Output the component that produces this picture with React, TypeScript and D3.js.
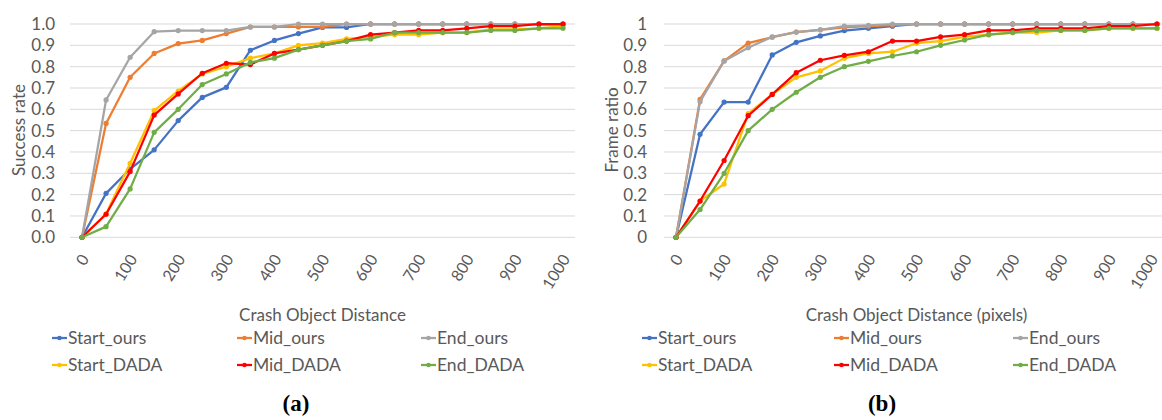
import * as d3 from 'd3';

// x categories (crash object distance)
const distances = [0, 50, 100, 150, 200, 250, 300, 350, 400, 450, 500, 550, 600, 650, 700, 750, 800, 850, 900, 950, 1000];
const tickLabels = ['0', '100', '200', '300', '400', '500', '600', '700', '800', '900', '1000'];
const yTicks = [0, 0.1, 0.2, 0.3, 0.4, 0.5, 0.6, 0.7, 0.8, 0.9, 1];

const seriesNames = ['Start_ours', 'Mid_ours', 'End_ours', 'Start_DADA', 'Mid_DADA', 'End_DADA'];
const seriesColors = ['#4472C4', '#ED7D31', '#A5A5A5', '#FFC000', '#FF0000', '#70AD47'];

// (a) success rate
const startOursA = [0, 0.206, 0.32, 0.41, 0.547, 0.656, 0.703, 0.877, 0.923, 0.955, 0.984, 0.984, 1, 1, 1, 1, 1, 1, 1, 1, 1];
const midOursA = [0, 0.534, 0.75, 0.862, 0.908, 0.923, 0.955, 0.986, 0.986, 0.986, 0.986, 1, 1, 1, 1, 1, 1, 1, 1, 1, 1];
const endOursA = [0, 0.644, 0.844, 0.964, 0.969, 0.969, 0.969, 0.986, 0.986, 1, 1, 1, 1, 1, 1, 1, 1, 1, 1, 1, 1];
const startDadaA = [0, 0.11, 0.347, 0.594, 0.686, 0.766, 0.8, 0.84, 0.862, 0.9, 0.91, 0.93, 0.94, 0.95, 0.95, 0.96, 0.96, 0.975, 0.975, 0.98, 0.99];
const midDadaA = [0, 0.108, 0.308, 0.573, 0.672, 0.769, 0.816, 0.81, 0.862, 0.88, 0.9, 0.92, 0.95, 0.96, 0.97, 0.97, 0.98, 0.99, 0.99, 1, 1];
const endDadaA = [0, 0.05, 0.227, 0.492, 0.6, 0.716, 0.766, 0.82, 0.84, 0.88, 0.9, 0.92, 0.93, 0.96, 0.96, 0.96, 0.96, 0.97, 0.97, 0.98, 0.98];

// (b) frame ratio
const startOursB = [0, 0.483, 0.634, 0.634, 0.855, 0.914, 0.944, 0.969, 0.98, 0.99, 1, 1, 1, 1, 1, 1, 1, 1, 1, 1, 1];
const midOursB = [0, 0.647, 0.827, 0.91, 0.938, 0.962, 0.973, 0.984, 0.99, 0.995, 1, 1, 1, 1, 1, 1, 1, 1, 1, 1, 1];
const endOursB = [0, 0.636, 0.827, 0.889, 0.94, 0.962, 0.973, 0.99, 0.994, 1, 1, 1, 1, 1, 1, 1, 1, 1, 1, 1, 1];
const startDadaB = [0, 0.17, 0.25, 0.58, 0.67, 0.75, 0.78, 0.84, 0.862, 0.87, 0.91, 0.92, 0.94, 0.95, 0.96, 0.96, 0.97, 0.97, 0.98, 0.98, 0.98];
const midDadaB = [0, 0.17, 0.36, 0.57, 0.67, 0.772, 0.83, 0.853, 0.87, 0.92, 0.92, 0.94, 0.95, 0.97, 0.97, 0.98, 0.98, 0.98, 0.99, 0.99, 1];
const endDadaB = [0, 0.13, 0.3, 0.5, 0.6, 0.68, 0.75, 0.8, 0.825, 0.85, 0.87, 0.9, 0.925, 0.95, 0.96, 0.97, 0.97, 0.97, 0.98, 0.98, 0.98];

const FONT = 'Lato, "Open Sans", sans-serif';
const TEXT = '#595959';

type PanelProps = {
  x0: number;
  x1: number;
  yLabelX: number;
  titleX: number;
  yTitle: string;
  xTitle: string;
  yFormat: (v: number) => string;
  series: number[][];
  legendCols: number[];
  caption: string;
  captionX: number;
};

function Panel(p: PanelProps) {
  const x = d3.scalePoint<number>().domain(distances).range([p.x0, p.x1]).padding(0.5);
  const y = d3.scaleLinear().domain([0, 1]).range([237.3, 24]);
  const line = d3.line<number>()
    .x((_, i) => x(distances[i])!)
    .y(d => y(d));
  const cx = (p.x0 + p.x1) / 2;

  return (
    <g>
      {yTicks.map(t => (
        <g key={t}>
          <line x1={p.x0} x2={Math.min(p.x1, 1162)} y1={y(t)} y2={y(t)} stroke="#d9d9d9" strokeWidth={1} />
          <text x={p.yLabelX} y={y(t)} dy="0.35em" textAnchor="end" fontSize={17} fill={TEXT}>{p.yFormat(t)}</text>
        </g>
      ))}
      {tickLabels.map(l => {
        const tx = x(+l)!;
        // keep the last label of the right panel inside the page
        return (
          <text key={l} transform={`translate(${Math.min(tx + 3, 1154)},${256}) rotate(-58)`} dy="0.35em" textAnchor="end" fontSize={16} fill={TEXT}>{l}</text>
        );
      })}
      <text transform={`translate(${p.titleX},130) rotate(-90)`} dy="0.35em" textAnchor="middle" fontSize={17} fill={TEXT}>{p.yTitle}</text>
      <text x={cx} y={315} dy="0.35em" textAnchor="middle" fontSize={17} fill={TEXT}>{p.xTitle}</text>
      {p.series.map((s, i) => (
        <g key={i}>
          <path d={line(s)!} fill="none" stroke={seriesColors[i]} strokeWidth={2.25} strokeLinejoin="round" />
          {s.map((v, j) => (
            <circle key={j} cx={x(distances[j])!} cy={y(v)} r={2.6} fill={seriesColors[i]} />
          ))}
        </g>
      ))}
      {seriesNames.map((n, i) => {
        const lx = p.legendCols[i % 3];
        const ly = i < 3 ? 338 : 365;
        return (
          <g key={n}>
            <line x1={lx} x2={lx + 15} y1={ly} y2={ly} stroke={seriesColors[i]} strokeWidth={2.25} />
            <circle cx={lx + 7.5} cy={ly} r={2.3} fill={seriesColors[i]} />
            <text x={lx + 16} y={ly} dy="0.35em" fontSize={17.5} fill={TEXT}>{n}</text>
          </g>
        );
      })}
      <text x={p.captionX} y={411} textAnchor="middle" fontSize={23} fontWeight="bold" fontFamily='"Liberation Serif", serif' fill="#000">{p.caption}</text>
    </g>
  );
}

export default function App() {
  return (
    <svg width={1162} height={420} style={{ position: 'absolute', left: 0, top: 0, background: '#fff' }} fontFamily={FONT}>
      <Panel
        x0={70}
        x1={575}
        yLabelX={55}
        titleX={19}
        yTitle="Success rate"
        xTitle="Crash Object Distance"
        yFormat={d3.format('.1f')}
        series={[startOursA, midOursA, endOursA, startDadaA, midDadaA, endDadaA]}
        legendCols={[52, 237, 421]}
        caption="(a)"
        captionX={296}
      />
      <Panel
        x0={664}
        x1={1169}
        yLabelX={647}
        titleX={612}
        yTitle="Frame ratio"
        xTitle="Crash Object Distance (pixels)"
        yFormat={d3.format('')}
        series={[startOursB, midOursB, endOursB, startDadaB, midDadaB, endDadaB]}
        legendCols={[642, 834, 1013]}
        caption="(b)"
        captionX={882}
      />
    </svg>
  );
}
